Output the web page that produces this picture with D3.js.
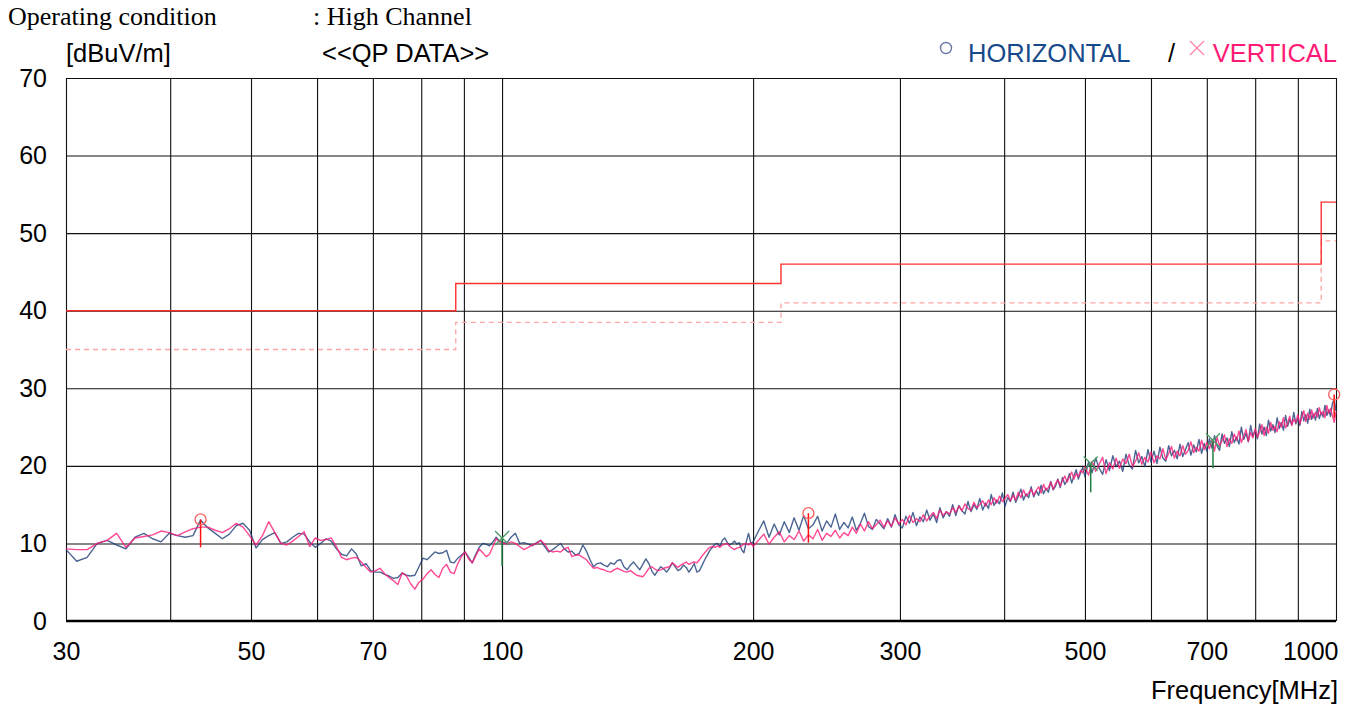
<!DOCTYPE html>
<html>
<head>
<meta charset="utf-8">
<script src="https://cdn.jsdelivr.net/npm/d3@7"></script>
<style>
  body { margin: 0; background: #fff; }
  svg { display: block; }
  .sans { font-family: "Liberation Sans", Arial, sans-serif; }
  .serif { font-family: "Liberation Serif", "Times New Roman", serif; }
</style>
</head>
<body>
<div class="chart-container"></div>
<script>
// sweep grid of the receiver (MHz): start of each band and its step
const bandStart = [30, 100, 200, 500];
const bandStep = [0.9, 1.25, 3, 5];

// HORIZONTAL trace, dBuV/m, one list per band
const horizBand0 = [9.2, 7.7, 8.2, 10.0, 10.4, 9.8, 9.3, 10.8, 11.3, 10.6,
  10.2, 11.3, 11.0, 10.8, 11.0, 13.0, 12.0, 11.3, 10.6, 11.2,
  12.3, 12.6, 11.7, 9.4, 10.5, 11.0, 11.4, 10.0, 10.2, 10.8,
  11.3, 11.2, 10.2, 9.5, 10.0, 10.6, 10.3, 9.3, 8.6, 8.4,
  9.3, 8.6, 7.1, 7.4, 6.5, 6.3, 6.3, 6.0, 5.8, 5.5,
  5.6, 6.2, 5.9, 5.8, 5.9, 7.0, 8.1, 7.9, 8.4, 8.9,
  8.7, 8.8, 9.1, 7.6, 7.5, 8.1, 8.5, 8.9, 8.2, 7.5,
  8.6, 9.5, 10.0, 9.9, 9.7, 10.2, 10.8, 10.3];
const horizBand1 = [10.2, 10.0, 10.8, 11.3, 10.0, 10.1, 9.9, 9.7, 10.1, 10.4,
  9.6, 8.9, 9.2, 9.6, 10.0, 9.3, 8.9, 9.0, 8.5, 8.7,
  9.8, 9.0, 7.9, 7.0, 7.4, 7.5, 7.2, 7.0, 7.5, 7.3,
  7.8, 7.9, 7.0, 6.6, 7.2, 7.6, 7.1, 6.6, 7.3, 8.0,
  7.4, 6.4, 5.9, 6.5, 7.0, 6.7, 6.3, 6.8, 7.5, 7.0,
  6.5, 6.7, 7.2, 6.9, 6.3, 6.8, 7.4, 6.3, 6.5, 7.2,
  7.9, 8.5, 9.1, 9.5, 9.9, 10.0, 9.6, 10.4, 10.7, 10.1,
  9.8, 10.0, 10.3, 9.9, 10.1, 9.2, 8.8, 10.2, 11.3, 10.0];
const horizBand2 = [10.2, 11.6, 12.9, 10.8, 12.5, 11.1, 12.8, 11.4, 13.3, 11.7,
  13.6, 11.9, 12.4, 13.5, 11.6, 12.9, 12.1, 13.8, 11.8, 12.7,
  12.0, 13.4, 11.7, 12.6, 13.9, 12.2, 11.8, 13.1, 12.5, 11.9,
  13.2, 12.1, 13.7, 12.4, 12.0, 13.5, 12.6, 14.0, 12.3, 13.4,
  12.8, 14.3, 13.0, 13.8, 12.7, 14.6, 13.3, 14.1, 13.5, 15.0,
  13.6, 14.9, 14.2, 13.8, 15.4, 14.1, 15.0, 14.4, 15.8, 14.3,
  15.2, 14.5, 16.3, 14.9, 15.6, 15.1, 16.5, 14.8, 15.9, 15.4,
  16.6, 15.3, 16.1, 17.0, 15.6, 16.4, 15.9, 17.3, 16.0, 16.8,
  16.2, 17.5, 16.4, 17.1, 16.6, 18.0, 16.9, 17.4, 18.3, 17.2,
  18.5, 17.6, 18.1, 19.0, 17.8, 18.7, 19.5, 18.3, 19.1, 19.8];
const horizBand3 = [18.6, 20.5, 19.1, 21.0, 19.7, 18.9, 20.8, 19.4, 21.3, 19.9,
  20.6, 19.3, 21.5, 20.1, 19.6, 22.0, 20.4, 21.2, 19.9, 22.1,
  20.5, 21.9, 20.3, 22.4, 21.0, 20.6, 22.6, 21.3, 22.0, 20.9,
  22.8, 21.2, 22.1, 23.0, 21.4, 22.7, 21.8, 23.4, 21.6, 22.9,
  21.9, 23.5, 22.3, 23.9, 22.6, 22.0, 24.1, 22.9, 23.6, 22.5,
  24.4, 23.0, 23.7, 22.8, 25.0, 23.4, 24.2, 23.1, 25.2, 23.8,
  24.6, 23.5, 25.4, 24.1, 25.0, 23.9, 25.9, 24.5, 25.3, 24.3,
  26.2, 24.8, 25.6, 24.6, 26.5, 25.1, 26.0, 25.3, 26.9, 25.4,
  26.1, 25.2, 27.0, 25.8, 26.6, 25.5, 27.3, 26.0, 26.7, 25.9,
  27.4, 26.1, 26.9, 26.3, 27.8, 26.5, 27.2, 26.4, 28.0, 28.6, 27.1];

// VERTICAL trace, dBuV/m
const vertBand0 = [9.3, 9.2, 9.2, 10.0, 10.4, 11.3, 9.5, 10.7, 10.9, 11.1,
  11.6, 11.4, 11.0, 11.5, 11.9, 12.1, 12.1, 11.7, 11.4, 11.9,
  12.6, 12.1, 11.0, 9.8, 11.0, 12.8, 11.4, 10.0, 9.8, 10.3,
  10.9, 11.5, 9.6, 10.7, 10.4, 10.5, 10.7, 9.6, 8.2, 7.9,
  8.1, 8.2, 7.6, 6.9, 6.3, 6.5, 6.8, 6.1, 5.6, 5.2,
  4.7, 6.2, 5.8, 4.8, 4.1, 5.0, 5.4, 6.1, 6.6, 6.0,
  5.6, 6.8, 7.3, 6.3, 6.1, 7.4, 8.3, 8.9, 8.0, 7.5,
  8.4, 9.3, 8.8, 8.3, 8.6, 9.6, 10.6, 10.2];
const vertBand1 = [10.1, 9.9, 10.2, 10.0, 9.6, 9.2, 9.5, 9.8, 10.0, 10.4,
  9.9, 9.1, 8.9, 9.0, 8.9, 9.3, 9.5, 8.3, 8.5, 8.5,
  8.2, 7.9, 7.3, 6.8, 6.9, 6.7, 6.6, 6.4, 6.3, 6.6,
  6.8, 6.6, 6.4, 6.3, 6.5, 6.2, 5.9, 5.8, 5.7, 6.2,
  6.8, 7.0, 6.7, 6.5, 6.6, 6.8, 6.9, 7.0, 7.5, 7.2,
  6.9, 7.2, 7.4, 7.6, 7.3, 7.5, 7.6, 7.5, 7.9, 8.4,
  8.8, 9.2, 9.5, 9.6, 9.5, 9.7, 9.5, 9.8, 9.9, 10.0,
  9.6, 9.4, 9.2, 9.4, 9.5, 9.7, 9.9, 10.0, 9.8, 10.1];
const vertBand2 = [9.6, 10.4, 11.2, 9.9, 10.8, 11.5, 10.2, 11.0, 10.5, 11.6,
  10.3, 11.1, 10.6, 11.8, 10.4, 11.3, 10.9, 11.7, 10.7, 11.4,
  11.0, 12.1, 11.3, 12.5, 11.6, 12.8, 11.9, 12.4, 13.0, 12.1,
  12.9, 12.2, 13.3, 12.5, 13.1, 12.4, 13.6, 12.7, 13.2, 12.8,
  13.7, 12.9, 13.5, 14.0, 13.2, 14.3, 13.6, 14.1, 13.8, 14.6,
  14.0, 14.8, 14.2, 15.1, 14.5, 14.3, 15.3, 14.6, 15.0, 15.5,
  14.8, 15.6, 15.0, 15.9, 15.2, 16.1, 15.4, 15.8, 16.3, 15.5,
  16.2, 15.6, 16.6, 15.9, 16.9, 16.1, 16.5, 17.0, 16.2, 16.8,
  17.3, 16.5, 17.6, 16.9, 17.2, 17.9, 17.0, 17.7, 18.2, 17.4,
  18.1, 18.7, 17.9, 18.6, 19.2, 18.3, 19.0, 18.6, 19.4, 19.1];
const vertBand3 = [19.9, 18.8, 20.6, 19.3, 20.2, 21.1, 19.0, 20.4, 19.6, 21.0,
  19.7, 20.9, 20.3, 21.5, 19.9, 20.6, 21.7, 20.2, 21.1, 20.5,
  21.8, 20.4, 21.3, 20.9, 22.2, 20.8, 21.6, 22.5, 21.0, 21.9,
  21.3, 22.6, 21.5, 22.0, 23.1, 21.7, 22.4, 21.9, 23.3, 22.1,
  23.0, 22.2, 23.4, 21.9, 23.7, 22.6, 23.2, 24.0, 22.5, 23.5,
  22.9, 24.1, 23.3, 24.5, 23.0, 23.8, 24.7, 23.2, 24.3, 23.6,
  24.8, 23.7, 24.4, 25.3, 23.9, 25.0, 24.2, 25.6, 24.6, 25.1,
  24.4, 25.7, 25.0, 26.2, 24.9, 25.5, 26.4, 25.2, 26.0, 25.6,
  26.6, 25.4, 26.3, 27.1, 25.7, 26.8, 26.0, 27.2, 26.2, 26.9,
  26.3, 27.5, 26.6, 27.0, 26.2, 27.8, 26.8, 27.4, 26.5, 25.6, 27.0];

// limit line (solid) and margin line (dashed), step after each frequency
const limitFreq = [30, 88, 216, 960, 1000];
const limitLevel = [40, 43.5, 46, 54, 54];
const marginLevel = [35, 38.5, 41, 49, 49];

// QP readings
const hPeakFreq = [43.5, 233, 995];
const hPeakLevel = [13.1, 13.9, 29.2];
const hPeakLow = [9.5, 10.1, 26.2];
const vPeakFreq = [100, 508, 712];
const vPeakLevel = [10.7, 20.3, 23.3];
const vPeakLow = [7.1, 16.6, 19.7];

// axes
const yTicks = [0, 10, 20, 30, 40, 50, 60, 70];
const xGrid = [30, 40, 50, 60, 70, 80, 90, 100, 200, 300, 400, 500, 600, 700, 800, 900, 1000];
const xLabels = [30, 50, 70, 100, 200, 300, 500, 700, 1000];

const W = 1359, H = 711;
const plot = {left: 66, right: 1336, top: 78, bottom: 621};

const xScale = d3.scaleLog().domain([30, 1000]).range([plot.left, plot.right]);
const yScale = d3.scaleLinear().domain([0, 70]).range([plot.bottom, plot.top]);

const svg = d3.select('.chart-container')
  .append('svg')
  .attr('width', W)
  .attr('height', H)
  .attr('viewBox', '0 0 ' + W + ' ' + H);

// pair a band's readings with its sweep frequencies
function toPoints(bands) {
  let pts = [];
  bands.forEach((vals, b) => {
    vals.forEach((v, i) => pts.push([bandStart[b] + i * bandStep[b], v]));
  });
  return pts;
}

function drawGrid() {
  svg.append('g')
    .attr('transform', 'translate(0,' + plot.bottom + ')')
    .call(d3.axisBottom(xScale).tickValues(xGrid).tickSize(-(plot.bottom - plot.top)).tickFormat(''))
    .call(g => g.select('.domain').remove())
    .selectAll('line').attr('stroke', '#111').attr('stroke-width', 1.1);

  svg.append('g')
    .attr('transform', 'translate(' + plot.left + ',0)')
    .call(d3.axisLeft(yScale).tickValues(yTicks).tickSize(-(plot.right - plot.left)).tickFormat(''))
    .call(g => g.select('.domain').remove())
    .selectAll('line').attr('stroke', '#111').attr('stroke-width', 1.1);

  // heavier zero line
  svg.append('line')
    .attr('x1', plot.left).attr('x2', plot.right)
    .attr('y1', yScale(0)).attr('y2', yScale(0))
    .attr('stroke', '#000').attr('stroke-width', 2.5);
}

function drawAxesText() {
  const yAx = svg.append('g')
    .attr('transform', 'translate(' + plot.left + ',0)')
    .call(d3.axisLeft(yScale).tickValues(yTicks).tickSize(0).tickPadding(19));
  yAx.select('.domain').remove();
  yAx.selectAll('text').attr('font-size', 25).attr('fill', '#000')
    .attr('font-family', '"Liberation Sans", Arial, sans-serif');

  const xAx = svg.append('g')
    .attr('transform', 'translate(0,' + plot.bottom + ')')
    .call(d3.axisBottom(xScale).tickValues(xLabels).tickSize(0).tickPadding(21).tickFormat(d3.format('d')));
  xAx.select('.domain').remove();
  xAx.selectAll('text').attr('font-size', 25).attr('fill', '#000')
    .attr('font-family', '"Liberation Sans", Arial, sans-serif');
  // last label sits flush with the right edge
  xAx.selectAll('text').filter((d) => d === 1000)
    .attr('text-anchor', 'end').attr('x', 2);

  svg.append('text').attr('class', 'sans')
    .attr('x', 1338).attr('y', 699).attr('text-anchor', 'end')
    .attr('font-size', 25.5).text('Frequency[MHz]');
}

function drawTitles() {
  svg.append('text').attr('class', 'serif')
    .attr('x', 8).attr('y', 25).attr('font-size', 26).text('Operating condition');
  svg.append('text').attr('class', 'serif')
    .attr('x', 313).attr('y', 25).attr('font-size', 26).text(': High Channel');
  svg.append('text').attr('class', 'sans')
    .attr('x', 66).attr('y', 62).attr('font-size', 25.5).text('[dBuV/m]');
  svg.append('text').attr('class', 'sans')
    .attr('x', 322).attr('y', 62).attr('font-size', 25.5).text('<<QP DATA>>');

  // legend
  svg.append('circle').attr('cx', 946).attr('cy', 48).attr('r', 5.5)
    .attr('fill', 'none').attr('stroke', '#6b78a6').attr('stroke-width', 1.4);
  svg.append('text').attr('class', 'sans')
    .attr('x', 968).attr('y', 62).attr('font-size', 25.5).attr('fill', '#16498a').text('HORIZONTAL');
  svg.append('text').attr('class', 'sans')
    .attr('x', 1168).attr('y', 62).attr('font-size', 25.5).attr('fill', '#000').text('/');
  svg.append('path')
    .attr('d', 'M1190,41L1204,55M1204,41L1190,55')
    .attr('stroke', '#ff86a8').attr('stroke-width', 1.4).attr('fill', 'none');
  svg.append('text').attr('class', 'sans')
    .attr('x', 1337).attr('y', 62).attr('text-anchor', 'end')
    .attr('font-size', 25.5).attr('fill', '#ff1a75').text('VERTICAL');
}

function drawLimits() {
  const step = (levels) => d3.line()
    .x((d, i) => xScale(limitFreq[i]))
    .y((d) => yScale(d))
    .curve(d3.curveStepAfter)(levels);

  svg.append('path').attr('d', step(marginLevel))
    .attr('fill', 'none').attr('stroke', '#ffa3a3').attr('stroke-width', 1.3)
    .attr('stroke-dasharray', '5,4');
  svg.append('path').attr('d', step(limitLevel))
    .attr('fill', 'none').attr('stroke', '#ff3030').attr('stroke-width', 1.4);
}

function drawTraces() {
  const line = d3.line()
    .x((d) => xScale(d[0]))
    .y((d) => yScale(d[1]));

  svg.append('path')
    .datum(toPoints([horizBand0, horizBand1, horizBand2, horizBand3]))
    .attr('d', line)
    .attr('fill', 'none').attr('stroke', '#1e3f78').attr('stroke-opacity', 0.8)
    .attr('stroke-width', 1.4).attr('stroke-linejoin', 'round');

  svg.append('path')
    .datum(toPoints([vertBand0, vertBand1, vertBand2, vertBand3]))
    .attr('d', line)
    .attr('fill', 'none').attr('stroke', '#ff1a78').attr('stroke-opacity', 0.8)
    .attr('stroke-width', 1.4).attr('stroke-linejoin', 'round');
}

function drawPeaks() {
  hPeakFreq.forEach((f, i) => {
    svg.append('line')
      .attr('x1', xScale(f)).attr('x2', xScale(f))
      .attr('y1', yScale(hPeakLevel[i])).attr('y2', yScale(hPeakLow[i]))
      .attr('stroke', '#ff1010').attr('stroke-width', 1.5);
    svg.append('circle')
      .attr('cx', xScale(f)).attr('cy', yScale(hPeakLevel[i])).attr('r', 5.5)
      .attr('fill', 'none').attr('stroke', '#ff5c5c').attr('stroke-width', 1.3);
  });

  vPeakFreq.forEach((f, i) => {
    const cx = xScale(f), cy = yScale(vPeakLevel[i]);
    svg.append('line')
      .attr('x1', cx).attr('x2', cx)
      .attr('y1', cy).attr('y2', yScale(vPeakLow[i]))
      .attr('stroke', '#1f8040').attr('stroke-width', 1.5);
    svg.append('path')
      .attr('d', 'M' + (cx - 7) + ',' + (cy - 7) + 'L' + (cx + 7) + ',' + (cy + 7) +
                 'M' + (cx + 7) + ',' + (cy - 7) + 'L' + (cx - 7) + ',' + (cy + 7))
      .attr('stroke', '#4a9c64').attr('stroke-width', 1.3).attr('fill', 'none');
  });
}

drawGrid();
drawLimits();
drawTraces();
drawPeaks();
drawAxesText();
drawTitles();
</script>
</body>
</html>
